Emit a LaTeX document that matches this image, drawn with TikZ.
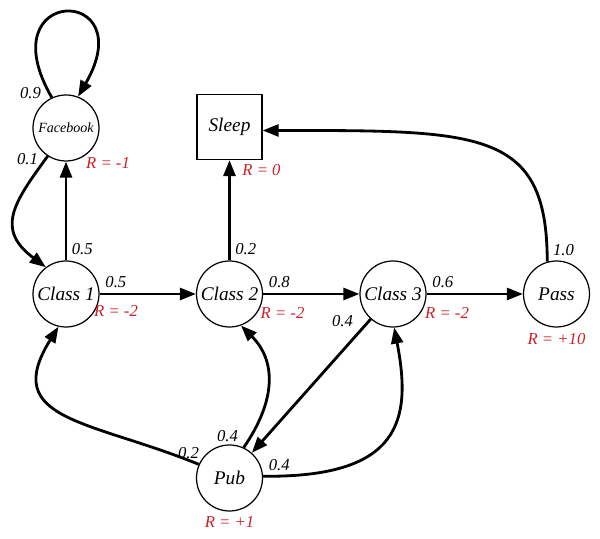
\documentclass[tikz,border=0pt]{standalone}
\usepackage{fontspec}
\setmainfont{Liberation Serif}
\usetikzlibrary{automata, positioning, arrows.meta}
\definecolor{rewardred}{RGB}{204,32,39}
\tikzset{
  ->,
  >={Triangle[length=3.2mm, width=2.4mm]},
  node distance=3.27cm,
  every state/.style={line width=0.7pt, minimum size=1.32cm, inner sep=0pt,
    font=\fontsize{11}{13}\selectfont\itshape},
  sink/.style={draw, rectangle, line width=0.7pt, minimum size=1.3cm,
    font=\fontsize{11}{13}\selectfont\itshape},
  trans/.style={line width=1.6pt},
  prob/.style={font=\fontsize{9.5}{11}\selectfont\itshape, inner sep=2.5pt},
  reward/.style={text=rewardred, font=\fontsize{9.5}{11}\selectfont\itshape, inner sep=0pt},
}

\begin{document}
\begin{tikzpicture}
	\useasboundingbox (0,0) rectangle (12,-10.78);

	% states
	\node[state] (c1) at (1.32,-5.88) {Class 1};
	\node[state, right of=c1] (c2) {Class 2};
	\node[state, right of=c2] (c3) {Class 3};
	\node[state, right of=c3] (pass) {Pass};
	\node[state, above of=c1, node distance=3.32cm,
		font=\fontsize{8}{10}\selectfont\itshape] (fb) {Facebook};
	\node[sink, above of=c2, node distance=3.34cm] (sleep) {Sleep};
	\node[state, below of=c2, node distance=3.68cm] (pub) {Pub};

	% rewards
	\node[reward, xshift=0.84cm, yshift=-0.7cm] (rfb) at (fb) {R = -1};
	\node[reward, xshift=0.64cm, yshift=-0.86cm] (rsleep) at (sleep) {R = 0};
	\node[reward, xshift=1cm, yshift=-0.34cm] (rc1) at (c1) {R = -2};
	\node[reward, xshift=1.06cm, yshift=-0.38cm] (rc2) at (c2) {R = -2};
	\node[reward, xshift=1.08cm, yshift=-0.38cm] (rc3) at (c3) {R = -2};
	\node[reward, yshift=-0.9cm] (rpass) at (pass) {R = +10};
	\node[reward, yshift=-0.88cm] (rpub) at (pub) {R = +1};

	% transitions
	\draw[trans] (c1) edge node[prob, pos=0, above right] {0.5} (c2)
		(c1) edge node[prob, pos=0, above right] {0.5} (fb)
		(c2) edge node[prob, pos=0, above right] {0.8} (c3)
		(c2) edge node[prob, pos=0, above right] {0.2} (sleep)
		(c3) edge node[prob, pos=0, above right] {0.6} (pass)
		(c3) edge node[prob, pos=0.1, above left] {0.4} (pub);

	\draw[trans] (fb.115) .. controls +(-1.3,2.25) and +(1.3,2.25) .. (fb.69)
		node[prob, pos=0, left, xshift=-0.1cm, yshift=0.08cm] {0.9};
	\draw[trans] (fb.237) .. controls +(-0.7,-0.95) and +(-1.0,0.75) .. (c1.127)
		node[prob, pos=0, left, xshift=-0.08cm, yshift=-0.06cm] {0.1};
	\draw[trans] (pass.106) .. controls +(0,2.65) and +(4.36,0) .. (sleep.-6)
		node[prob, pos=0, above right] {1.0};
	\draw[trans] (pub.156) .. controls +(-2.19,0.89) and +(-1.17,-1.88) .. (c1.257)
		node[prob, pos=0, above left, xshift=0.12cm] {0.2};
	\draw[trans] (pub.65) .. controls +(0.66,0.96) and +(0.7,-0.7) .. (c2.290)
		node[prob, pos=0, above left] {0.4};
	\draw[trans] (pub.3) .. controls +(2.75,-0.03) and +(0.36,-1.86) .. (c3.272)
		node[prob, pos=0, above right] {0.4};

\end{tikzpicture}
\end{document}
